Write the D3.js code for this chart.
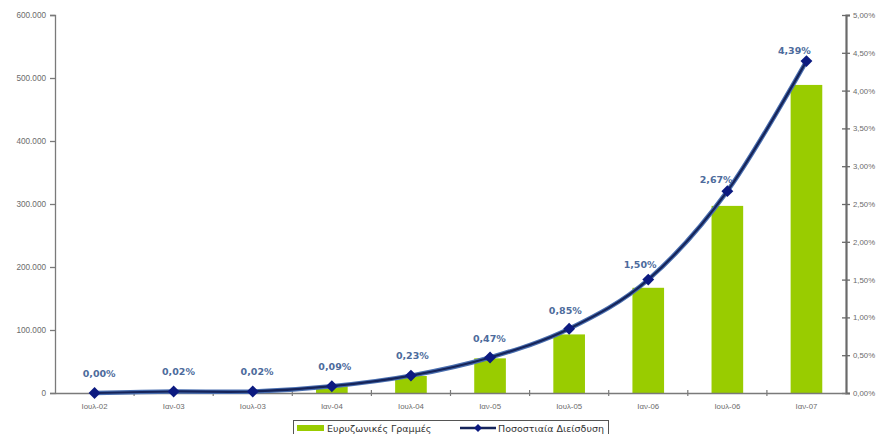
<!DOCTYPE html>
<html>
<head>
<meta charset="utf-8">
<script src="https://cdn.jsdelivr.net/npm/d3@7"></script>
<style>
  html, body { margin: 0; padding: 0; background: #fff; }
  svg { display: block; font-family: Verdana, "DejaVu Sans", sans-serif; }
</style>
</head>
<body>
<svg id="chart" width="882" height="434"></svg>
<script>
// Broadband lines and penetration rate, half-yearly
const periods = ["Ιουλ-02", "Ιαν-03", "Ιουλ-03", "Ιαν-04", "Ιουλ-04", "Ιαν-05", "Ιουλ-05", "Ιαν-06", "Ιουλ-06", "Ιαν-07"];
const lines = [0, 1000, 1500, 11000, 27000, 55000, 93000, 167000, 297000, 489000];
const penetration = [0.00, 0.02, 0.02, 0.09, 0.23, 0.47, 0.85, 1.50, 2.67, 4.39];
const leftTicks = [0, 100000, 200000, 300000, 400000, 500000, 600000];
const rightTicks = [0, 0.5, 1, 1.5, 2, 2.5, 3, 3.5, 4, 4.5, 5];
const seriesNames = ["Ευρυζωνικές Γραμμές", "Ποσοστιαία Διείσδυση"];

const svg = d3.select("#chart");
const plot = { left: 55, right: 846, top: 15, bottom: 393 };

const x = d3.scaleBand().domain(periods).range([plot.left, plot.right]).paddingInner(0.6).paddingOuter(0.3);
const xEdge = d3.scaleBand().domain(periods).range([plot.left, plot.right]);
const yL = d3.scaleLinear().domain([0, 600000]).range([plot.bottom, plot.top]);
const yR = d3.scaleLinear().domain([0, 5]).range([plot.bottom, plot.top]);

const axisColor = "#7a7a7a";
const labelColor = "#6b6b6b";
const grFmt = d3.formatLocale({ decimal: ",", thousands: ".", grouping: [3], currency: ["", "€"] });
const fmtThousands = grFmt.format(",.0f");
const fmtPct = v => grFmt.format(".2f")(v) + "%";

// bars
svg.append("g").selectAll("rect").data(lines).join("rect")
  .attr("x", (d, i) => x(periods[i]))
  .attr("width", x.bandwidth())
  .attr("y", d => yL(d))
  .attr("height", d => plot.bottom - yL(d))
  .attr("fill", "#99cc00");

// left axis
const gL = svg.append("g").attr("transform", `translate(${plot.left},0)`)
  .call(d3.axisLeft(yL).tickValues(leftTicks).tickSize(5).tickPadding(4).tickFormat(fmtThousands));
gL.select(".domain").attr("stroke", axisColor).attr("stroke-width", 1.3);
gL.selectAll(".tick line").attr("stroke", axisColor).attr("stroke-width", 1.3);
gL.selectAll("text").attr("fill", labelColor).attr("font-size", 8.2);

// right axis
const gR = svg.append("g").attr("transform", `translate(${plot.right},0)`)
  .call(d3.axisRight(yR).tickValues(rightTicks).tickSize(4).tickPadding(3).tickFormat(fmtPct));
gR.select(".domain").attr("stroke", "#6a6a6a").attr("stroke-width", 2.2);
gR.selectAll(".tick line").attr("stroke", "#6a6a6a").attr("stroke-width", 1.3).attr("x1", -4);
gR.selectAll("text").attr("fill", labelColor).attr("font-size", 7.8);

// bottom axis: ticks at category boundaries
const gB = svg.append("g").attr("transform", `translate(0,${plot.bottom})`)
  .call(d3.axisBottom(x).tickSize(0).tickPadding(10));
gB.select(".domain").attr("stroke", axisColor).attr("stroke-width", 1.3);
gB.selectAll("text").attr("fill", labelColor).attr("font-size", 7.8);
svg.append("g").selectAll("line").data(periods.slice(1)).join("line")
  .attr("x1", d => xEdge(d)).attr("x2", d => xEdge(d))
  .attr("y1", plot.bottom - 3).attr("y2", plot.bottom + 3)
  .attr("stroke", axisColor).attr("stroke-width", 1.2);

// penetration line
const cx = i => x(periods[i]) + x.bandwidth() / 2;
const pts = penetration.map((d, i) => [cx(i), yR(d)]);
const lineGen = d3.line().curve(d3.curveCatmullRom.alpha(0));
svg.append("path").attr("d", lineGen(pts))
  .attr("fill", "none").attr("stroke", "#4a6fb0").attr("stroke-width", 4.5);
svg.append("path").attr("d", lineGen(pts))
  .attr("fill", "none").attr("stroke", "#15245a").attr("stroke-width", 2.2);

// diamond markers
svg.append("g").selectAll("path").data(pts).join("path")
  .attr("transform", p => `translate(${p[0]},${p[1]})`)
  .attr("d", d3.symbol().type(d3.symbolDiamond2).size(90))
  .attr("fill", "#0c1a80");

// value labels, pushed off the line along its upper-left normal
const labelPos = pts.map((p, i) => {
  const a = pts[Math.max(0, i - 1)], b = pts[Math.min(pts.length - 1, i + 1)];
  const tx = b[0] - a[0], ty = b[1] - a[1];
  const len = Math.hypot(tx, ty);
  const nx = ty / len, ny = -tx / len; // perpendicular, pointing upward
  return [p[0] + nx * 20 + 5, p[1] + ny * 20];
});
svg.append("g").selectAll("text").data(penetration).join("text")
  .attr("x", (d, i) => labelPos[i][0])
  .attr("y", (d, i) => labelPos[i][1] + 3.5)
  .attr("text-anchor", "middle")
  .attr("font-size", 9.5)
  .attr("font-weight", "bold")
  .attr("fill", "#4d6b9c")
  .text(fmtPct);

// legend
const lg = svg.append("g");
lg.append("rect").attr("x", 293.5).attr("y", 420.5).attr("width", 315).attr("height", 20)
  .attr("fill", "#fff").attr("stroke", "#555").attr("stroke-width", 1);
lg.append("rect").attr("x", 297).attr("y", 425).attr("width", 27).attr("height", 6).attr("fill", "#99cc00");
lg.append("text").attr("x", 327).attr("y", 432).attr("font-size", 9.5).attr("fill", "#333").text(seriesNames[0]);
lg.append("line").attr("x1", 460).attr("x2", 496).attr("y1", 428).attr("y2", 428)
  .attr("stroke", "#15245a").attr("stroke-width", 2.5);
lg.append("path").attr("transform", "translate(478,428)")
  .attr("d", d3.symbol().type(d3.symbolDiamond2).size(40)).attr("fill", "#0c1a80");
lg.append("text").attr("x", 498).attr("y", 432).attr("font-size", 9.5).attr("fill", "#333").text(seriesNames[1]);
</script>
</body>
</html>
